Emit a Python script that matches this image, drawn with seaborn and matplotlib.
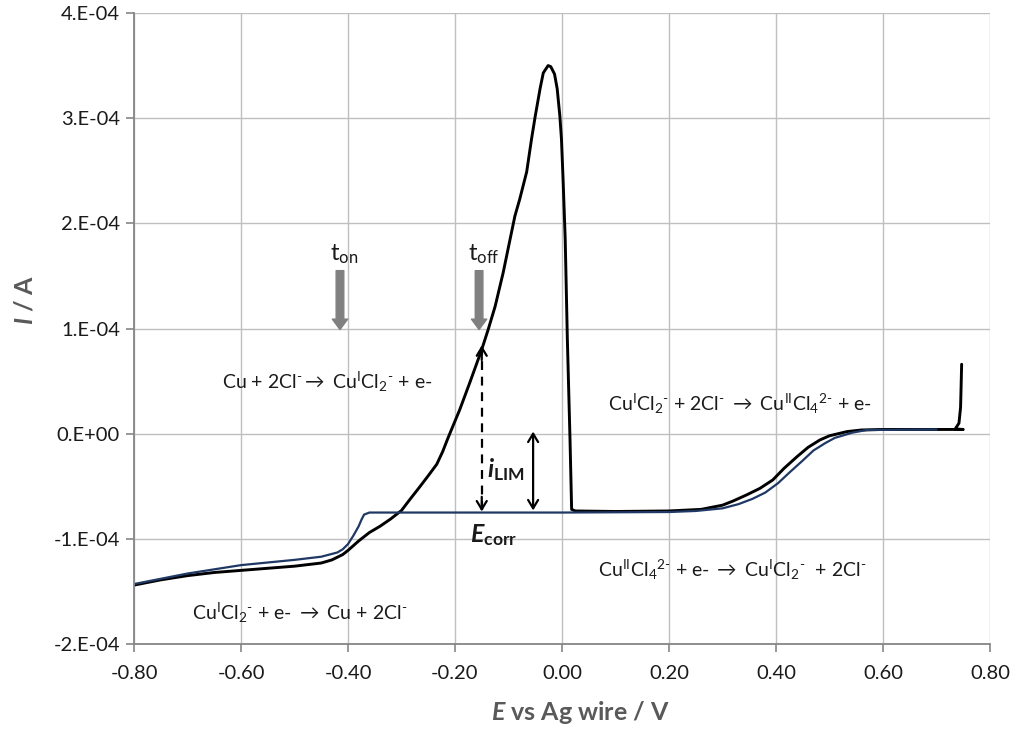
import numpy as np
import pandas as pd
import matplotlib
matplotlib.use("Agg")
import matplotlib.pyplot as plt
import seaborn as sns

# ---- data ----
black_E = [-0.80, -0.75, -0.70, -0.65, -0.60, -0.55, -0.50, -0.45, -0.43, -0.41, -0.40, -0.38,
           -0.36, -0.34, -0.32, -0.30, -0.285, -0.265, -0.25, -0.234, -0.223, -0.213, -0.191,
           -0.172, -0.150, -0.138, -0.125, -0.110, -0.097, -0.088, -0.079, -0.066, -0.057,
           -0.050, -0.041, -0.035, -0.026, -0.021, -0.014, -0.009, -0.004, -0.001, 0.002,
           0.006, 0.010, 0.015, 0.018, 0.025, 0.10, 0.20, 0.26, 0.30, 0.32, 0.346, 0.37,
           0.394, 0.415, 0.439, 0.46, 0.482, 0.50, 0.533, 0.56, 0.60, 0.750, 0.735, 0.742,
           0.745, 0.746, 0.747]
black_I = [-1.44, -1.39, -1.35, -1.32, -1.30, -1.28, -1.26, -1.23, -1.20, -1.15, -1.11, -1.02,
           -0.94, -0.88, -0.81, -0.73, -0.63, -0.50, -0.40, -0.29, -0.17, -0.04, 0.23,
           0.49, 0.80, 0.99, 1.21, 1.53, 1.85, 2.07, 2.23, 2.49, 2.80,
           3.02, 3.28, 3.43, 3.50, 3.49, 3.42, 3.28, 3.02, 2.80, 2.42,
           1.85, 0.90, -0.06, -0.72, -0.735, -0.74, -0.735, -0.72, -0.68, -0.64, -0.58, -0.52,
           -0.44, -0.33, -0.22, -0.13, -0.06, -0.02, 0.02, 0.035, 0.04, 0.04, 0.045, 0.10,
           0.25, 0.45, 0.66]

blue_E = [0.70, 0.57, 0.543, 0.51, 0.492, 0.47, 0.449, 0.425, 0.404, 0.38, 0.356, 0.33,
          0.30, 0.25, 0.20, 0.00, -0.36, -0.37, -0.375, -0.38, -0.39, -0.40, -0.41,
          -0.42, -0.45, -0.50, -0.60, -0.70, -0.80]
blue_I = [0.04, 0.035, 0.01, -0.04, -0.09, -0.16, -0.26, -0.37, -0.47, -0.56, -0.62, -0.67,
          -0.71, -0.735, -0.745, -0.75, -0.75, -0.77, -0.82, -0.88, -0.97, -1.05, -1.10,
          -1.13, -1.17, -1.20, -1.25, -1.33, -1.43]

x_ticks = [-0.80, -0.60, -0.40, -0.20, 0.00, 0.20, 0.40, 0.60, 0.80]
x_tick_labels = ["-0.80", "-0.60", "-0.40", "-0.20", "0.00", "0.20", "0.40", "0.60", "0.80"]
y_ticks = [-2e-4, -1e-4, 0.0, 1e-4, 2e-4, 3e-4, 4e-4]
y_tick_labels = ["-2.E-04", "-1.E-04", "0.E+00", "1.E-04", "2.E-04", "3.E-04", "4.E-04"]

scale = 1e-4
black = pd.DataFrame({"E": black_E, "I": np.array(black_I) * scale})
blue = pd.DataFrame({"E": blue_E, "I": np.array(blue_I) * scale})

# ---- style ----
sns.set_theme(style="white")
FONT = "Lato"
plt.rcParams["font.family"] = [FONT, "DejaVu Sans"]
plt.rcParams["mathtext.fontset"] = "custom"
plt.rcParams["mathtext.rm"] = FONT
plt.rcParams["mathtext.it"] = FONT + ":italic"
plt.rcParams["mathtext.bf"] = FONT + ":bold"
plt.rcParams["mathtext.bfit"] = FONT + ":bold:italic"

fig = plt.figure(figsize=(10.16, 7.30), dpi=100)
ax = fig.add_axes([134 / 1016, 1 - 644 / 730, (990 - 134) / 1016, (644 - 13) / 730])

sns.lineplot(data=black, x="E", y="I", sort=False, estimator=None, color="black",
             lw=2.1, ax=ax)
sns.lineplot(data=blue, x="E", y="I", sort=False, estimator=None, color="#1f3864",
             lw=1.6, ax=ax)

ax.set_xlim(-0.80, 0.80)
ax.set_ylim(-2e-4, 4e-4)
ax.set_xticks(x_ticks)
ax.set_xticklabels(x_tick_labels)
ax.set_yticks(y_ticks)
ax.set_yticklabels(y_tick_labels)

grid_c = "#bfbfbf"
spine_c = "#868686"
ax.grid(True, color=grid_c, lw=1.0)
ax.set_axisbelow(True)
for s in ["top", "right"]:
    ax.spines[s].set_visible(False)
for s in ["left", "bottom"]:
    ax.spines[s].set_color(spine_c)
    ax.spines[s].set_linewidth(1.3)
ax.tick_params(axis="both", which="both", direction="out", length=6, width=1.2,
               color=spine_c, labelsize=14.5, labelcolor="#1a1a1a", pad=4)
ax.tick_params(axis="x", pad=9)
ax.tick_params(axis="y", left=True)
ax.tick_params(axis="x", bottom=True)

label_c = "#595959"
ax.set_xlabel(r"$\mathbfit{E}$ vs Ag wire / V", fontsize=18, fontweight="bold", color=label_c,
              va="center")
ax.xaxis.set_label_coords(0.521, -0.108)
ax.set_ylabel(r"$\mathbfit{I}$ / A", fontsize=18, fontweight="bold", color=label_c,
              va="center")
ax.yaxis.set_label_coords(-0.127, 0.545)

# ---- annotations ----
txt_kw = dict(fontsize=14, color="#1a1a1a", va="center", ha="left")
M = r"$^{\text{-}}$"
M2 = r"$^{\text{2-}}$"
I1 = r"$^{\text{I}}$"
I2 = r"$^{\text{II}}$"
S2 = r"$_{\text{2}}$"
S4 = r"$_{\text{4}}$"
ARR = r"$\rightarrow$"
ax.text(-0.636, 0.49e-4, "Cu + 2Cl" + M + ARR + " Cu" + I1 + "Cl" + S2 + M + " + e-", **txt_kw)
ax.text(0.086, 0.28e-4, "Cu" + I1 + "Cl" + S2 + M + " + 2Cl" + M + " " + ARR + " Cu" + I2
        + "Cl" + S4 + M2 + " + e-", **txt_kw)
ax.text(0.067, -1.30e-4, "Cu" + I2 + "Cl" + S4 + M2 + " + e- " + ARR + " Cu" + I1 + "Cl" + S2
        + M + "  + 2Cl" + M, **txt_kw)
ax.text(-0.692, -1.70e-4, "Cu" + I1 + "Cl" + S2 + M + " + e- " + ARR + " Cu + 2Cl" + M,
        **txt_kw)

# t_on / t_off with grey block arrows
for xpos, lab in [(-0.415, r"t$_{\text{on}}$"), (-0.155, r"t$_{\text{off}}$")]:
    ax.text(xpos + 0.008, 1.71e-4, lab, fontsize=17, color="#1a1a1a", ha="center", va="center")
    ax.annotate("", xy=(xpos, 0.99e-4), xytext=(xpos, 1.55e-4),
                arrowprops=dict(arrowstyle="simple,head_length=0.75,head_width=1.1,tail_width=0.55",
                                color="#808080", shrinkA=0, shrinkB=0, mutation_scale=10))

# dashed double arrow (E_corr to curve)
xd = -0.150
ax.plot([xd, xd], [-0.73e-4, 0.80e-4], color="black", lw=1.6, ls=(0, (4, 3)))
ax.annotate("", xy=(xd, 0.84e-4), xytext=(xd, 0.70e-4),
            arrowprops=dict(arrowstyle="->,head_length=0.5,head_width=0.3", color="black",
                            lw=1.6, shrinkA=0, shrinkB=0))
ax.annotate("", xy=(xd, -0.74e-4), xytext=(xd, -0.60e-4),
            arrowprops=dict(arrowstyle="->,head_length=0.5,head_width=0.3", color="black",
                            lw=1.6, shrinkA=0, shrinkB=0))

# i_LIM double arrow
ax.annotate("", xy=(-0.054, 0.02e-4), xytext=(-0.054, -0.73e-4),
            arrowprops=dict(arrowstyle="<->,head_length=0.5,head_width=0.3", color="black",
                            lw=1.6, shrinkA=0, shrinkB=0))
ax.text(-0.140, -0.34e-4, r"$\mathbfit{i}_{\mathbf{LIM}}$", fontsize=18, color="#1a1a1a",
        ha="left", va="center")
ax.text(-0.172, -0.96e-4, r"$\mathbfit{E}_{\mathbf{corr}}$", fontsize=18, color="#1a1a1a",
        ha="left", va="center")

fig.savefig("out.png", dpi=100)
